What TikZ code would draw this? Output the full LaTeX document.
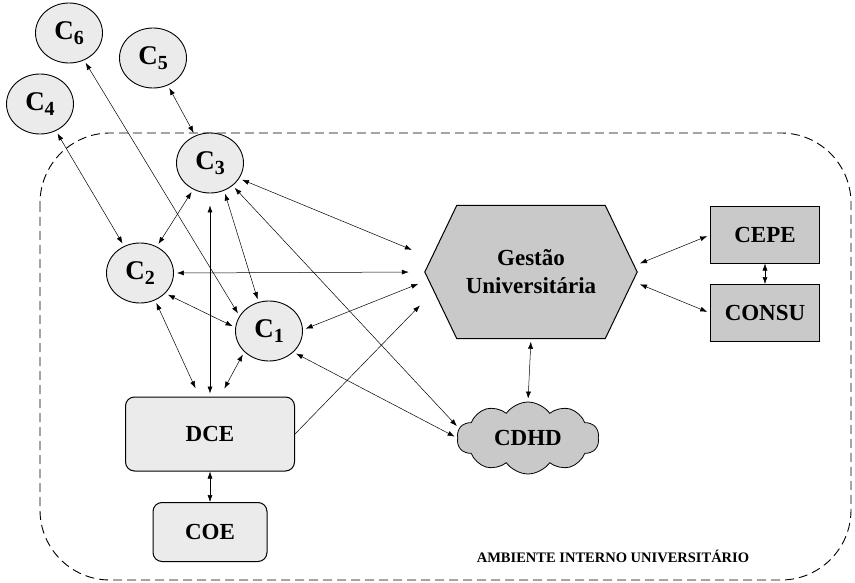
\documentclass[tikz,border=0pt]{standalone}
\usepackage{fontspec}
\setmainfont{Liberation Serif}
\usepackage{tikz}
\usetikzlibrary{positioning}
\usetikzlibrary{shapes.geometric,shapes.symbols}
\usetikzlibrary{arrows.meta,backgrounds}

\definecolor{lightfill}{gray}{0.92}
\definecolor{darkfill}{gray}{0.79}
\newcommand{\csub}[1]{\raisebox{-5pt}{\fontsize{20}{20}\selectfont #1}}

\tikzset{
  cnode/.style={ellipse, draw, line width=0.9pt, fill=lightfill, minimum width=67pt, minimum height=60pt, inner sep=0pt, font=\fontsize{27}{29}\selectfont\bfseries},
  dbox/.style={draw, line width=1pt, rounded corners=9pt, fill=lightfill, inner sep=0pt, font=\fontsize{23}{28}\selectfont\bfseries},
  gbox/.style={draw, line width=1pt, fill=darkfill, inner sep=0pt, font=\fontsize{23}{28}\selectfont\bfseries},
  link/.style={<->, >={Latex[length=7pt,width=5pt]}, line width=0.5pt, shorten <=3pt, shorten >=3pt},
}

\begin{document}
\begin{tikzpicture}[x=1pt,y=-1pt]
\useasboundingbox (0,0) rectangle (855,583);
% ambiente interno
\draw[dash pattern=on 9pt off 5pt, line width=0.9pt, rounded corners=70pt] (40,133) rectangle (851,580);
\node[font=\fontsize{14.5}{16}\selectfont\bfseries] (amb) at (613,556) {AMBIENTE INTERNO UNIVERSITÁRIO};

\node[cnode] (c6) at (69,33) {C\csub{6}};
\node[cnode] (c5) at (153,58) {C\csub{5}};
\node[cnode] (c4) at (40,104) {C\csub{4}};
\node[cnode] (c3) at (210,163) {C\csub{3}};
\node[cnode] (c2) at (140,273) {C\csub{2}};
\node[cnode] (c1) at (269,331) {C\csub{1}};

\node[dbox, minimum width=169pt, minimum height=74pt] (dce) at (210,434) {DCE};
\node[dbox, minimum width=114pt, minimum height=59pt] (coe) at (210,532) {COE};

\node[align=center, inner sep=0pt, minimum width=212pt, minimum height=133pt, font=\fontsize{23}{28}\selectfont\bfseries] (gestao) at (531,272) {Gestão\\Universitária};
\begin{scope}[on background layer]
\draw[line width=1pt, fill=darkfill] (gestao.west) -- ([xshift=32pt]gestao.north west) -- ([xshift=-32pt]gestao.north east)
  -- (gestao.east) -- ([xshift=-32pt]gestao.south east) -- ([xshift=32pt]gestao.south west) -- cycle;
\end{scope}

\node[gbox, minimum width=109pt, minimum height=56pt] (cepe) at (765,235) {CEPE};
\node[gbox, minimum width=109pt, minimum height=57pt] (consu) at (765,313) {CONSU};
\node[cloud, draw, line width=0.8pt, fill=darkfill, cloud puffs=10, cloud puff arc=110, aspect=2,
  minimum width=142pt, minimum height=72pt, inner sep=0pt, font=\fontsize{23}{28}\selectfont\bfseries] (cdhd) at (528,438) {CDHD};

% ligacoes
\draw[link] (c5) -- (c3);
\draw[link] (c4) -- (c2);
\draw[link] (c6.-61) -- (c1.153);
\draw[link] (c3) -- (c2);
\draw[link, shorten <=12pt] (c3.south) -- (dce.north);
\draw[link] (c3.-63) -- (c1.110);
\draw[link] (c3.-45) -- (cdhd.172);
\draw[link, shorten >=14pt] (c3.-28) -- (gestao.171);
\draw[link, shorten >=16pt] (c2.east) -- (gestao.west);
\draw[link, shorten >=7pt] (c1.2) -- (gestao.185);
\draw[link] (c2.-39) -- (c1.174);
\draw[link, shorten >=9pt] (c2.-61) -- (dce.106);
\draw[link, shorten >=9pt] (c1.220) -- (dce.75);
\draw[->, >={Latex[length=7pt,width=5pt]}, line width=0.5pt, shorten >=7pt] (dce.east) -- (gestao.195);
\draw[link] (c1.-41) -- (cdhd.west);
\draw[link] (gestao.south) -- (cdhd.north);
\draw[link] (gestao.4) -- (cepe.west);
\draw[link] (gestao.-6) -- (consu.west);
\draw[link, shorten <=0pt, shorten >=0pt] (cepe) -- (consu);
\draw[link, shorten <=0pt, shorten >=0pt] (dce) -- (coe);
\end{tikzpicture}
\end{document}
